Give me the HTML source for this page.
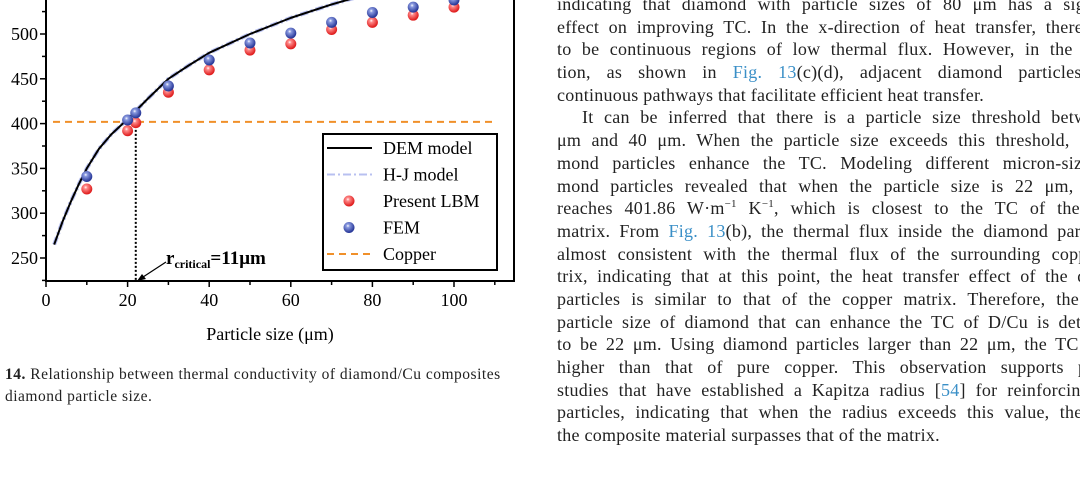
<!DOCTYPE html>
<html><head><meta charset="utf-8">
<style>
html,body{margin:0;padding:0;background:#fff;width:1080px;height:498px;overflow:hidden;position:relative;font-family:"Liberation Serif",serif;color:#222}
#txt{position:absolute;left:557px;top:-7px;width:523px;height:460px;overflow:hidden;font-size:18px;letter-spacing:0.25px;line-height:22.7px}
#txt div{white-space:nowrap;text-align:justify;text-align-last:justify;overflow:hidden;height:22.7px;width:585px}
#txt sup{font-size:11px;line-height:0;vertical-align:7px}
.lk{color:#3a8fc7}
#cap{position:absolute;left:5px;top:364px;font-size:15.5px;line-height:22px;color:#222;letter-spacing:0.5px}
</style></head><body>
<svg id="chart" width="520" height="345" style="position:absolute;left:0;top:0" xmlns="http://www.w3.org/2000/svg"></svg>
<div id="cap"><b>14.</b> Relationship between thermal conductivity of diamond/Cu composites<br>diamond particle size.</div>
<div id="txt">
<div>indicating that diamond with particle sizes of 80 μm has a significant</div>
<div>effect on improving TC. In the x-direction of heat transfer, there appear</div>
<div>to be continuous regions of low thermal flux. However, in the y-direc-</div>
<div>tion, as shown in <span class="lk">Fig. 13</span>(c)(d), adjacent diamond particles create</div>
<div style="text-align-last:left">continuous pathways that facilitate efficient heat transfer.</div>
<div style="padding-left:25px;width:560px">It can be inferred that there is a particle size threshold between 20</div>
<div>μm and 40 μm. When the particle size exceeds this threshold, the dia-</div>
<div>mond particles enhance the TC. Modeling different micron-sized dia-</div>
<div>mond particles revealed that when the particle size is 22 μm, the TC</div>
<div>reaches 401.86 W·m<sup>−1</sup> K<sup>−1</sup>, which is closest to the TC of the copper</div>
<div>matrix. From <span class="lk">Fig. 13</span>(b), the thermal flux inside the diamond particles is</div>
<div>almost consistent with the thermal flux of the surrounding copper ma-</div>
<div>trix, indicating that at this point, the heat transfer effect of the diamond</div>
<div>particles is similar to that of the copper matrix. Therefore, the critical</div>
<div>particle size of diamond that can enhance the TC of D/Cu is determined</div>
<div>to be 22 μm. Using diamond particles larger than 22 μm, the TC will be</div>
<div>higher than that of pure copper. This observation supports previous</div>
<div>studies that have established a Kapitza radius [<span class="lk">54</span>] for reinforcing phase</div>
<div>particles, indicating that when the radius exceeds this value, the TC of</div>
<div style="text-align-last:left">the composite material surpasses that of the matrix.</div>
</div>
<script>
const sizes=[10,20,22,30,40,50,60,70,80,90,100];
const lbm=[327,392,401,435,460,482,489,505,513,521,530];
const fem=[341,404,412,442,471,490,501,513,524,530,538];
const demX=[2,4,6,8,10,13,16,20,25,30,35,40,50,60,70,80,90,100];
const demY=[265,290,312,332,350,372,388,405,428,450,465,479,500,518,533,546,557,566];
const xTicks=[0,20,40,60,80,100];
const yTicks=[250,300,350,400,450,500];
const copper=401.86;
const NS='http://www.w3.org/2000/svg';
const svg=document.getElementById('chart');
const X=v=>46+v*4.08, Y=v=>34+(500-v)*0.896;
function mk(t,a,p){const e=document.createElementNS(NS,t);for(const k in a)e.setAttribute(k,a[k]);(p||svg).appendChild(e);return e;}
const defs=mk('defs',{});
[['gr','#ff8a8a','#e02020'],['gb','#8a9ae0','#2a3a9a']].forEach(([id,c1,c2])=>{const g=mk('radialGradient',{id:id,cx:'0.4',cy:'0.35',r:'0.6'},defs);mk('stop',{offset:'0','stop-color':'#fff'},g);mk('stop',{offset:'0.25','stop-color':c1},g);mk('stop',{offset:'1','stop-color':c2},g);});
const fr=mk('path',{d:'M46,0 V281 H514 V0',fill:'none',stroke:'#000','stroke-width':2});

for(let v=0;v<=110;v+=10){mk('line',{x1:X(v),x2:X(v),y1:281,y2:v%20==0?287:285,stroke:'#000','stroke-width':1.5});}
xTicks.forEach(v=>{const t=mk('text',{x:X(v),y:306,'text-anchor':'middle','font-size':18,'font-family':'Liberation Serif'});t.textContent=v;
});
for(let v=225;v<=550;v+=25){if(Y(v)<0||Y(v)>281)continue;mk('line',{x1:46,x2:v%50==0?40:42,y1:Y(v),y2:Y(v),stroke:'#000','stroke-width':1.5});}
yTicks.forEach(v=>{const t=mk('text',{x:38,y:Y(v)+6,'text-anchor':'end','font-size':18,'font-family':'Liberation Serif'});t.textContent=v;
});
const xt=mk('text',{x:270,y:340,'text-anchor':'middle','font-size':18,'font-family':'Liberation Serif'});xt.textContent='Particle size  (μm)';

const cu=mk('line',{x1:53,x2:495,y1:Y(copper),y2:Y(copper),stroke:'#f0902a','stroke-width':2,'stroke-dasharray':'7,5'});

const pts=demX.map((v,i)=>X(v)+','+Y(demY[i])).join(' ');
const hj=mk('polyline',{points:pts,fill:'none',stroke:'#b8c0f0','stroke-width':4,'stroke-dasharray':'8,3,2,3'});

const dem=mk('polyline',{points:pts,fill:'none',stroke:'#000','stroke-width':2,'stroke-linejoin':'round'});

mk('line',{x1:X(22),x2:X(22),y1:Y(copper),y2:281,stroke:'#000','stroke-width':2,'stroke-dasharray':'2,2'});
mk('line',{x1:166,x2:140,y1:262,y2:279,stroke:'#000','stroke-width':1.2});
mk('path',{d:'M137,281 L146,279 L142,274 Z',fill:'#000'});
const rc=mk('text',{x:166,y:264,'font-size':19,'font-weight':'bold','font-family':'Liberation Serif'});
rc.innerHTML='r<tspan font-size="12" dy="4">critical</tspan><tspan dy="-4">=11μm</tspan>';

sizes.forEach((s,i)=>{
const a=mk('circle',{cx:X(s),cy:Y(lbm[i]),r:5.5,fill:'url(#gr)'});
});
sizes.forEach((s,i)=>{
const b=mk('circle',{cx:X(s),cy:Y(fem[i]),r:5.5,fill:'url(#gb)'});
});
const lg=mk('g',{});
mk('rect',{x:323,y:134,width:174,height:136,fill:'#fff',stroke:'#000','stroke-width':2},lg);
const items=[['DEM  model','line'],['H-J  model','dash'],['Present LBM','red'],['FEM','blue'],['Copper','cu']];
items.forEach((it,i)=>{const y=148+i*26.5;
if(it[1]=='line')mk('line',{x1:327,x2:372,y1:y,y2:y,stroke:'#000','stroke-width':2},lg);
if(it[1]=='dash')mk('line',{x1:327,x2:372,y1:y,y2:y,stroke:'#b8c0f0','stroke-width':2,'stroke-dasharray':'8,3,2,3'},lg);
if(it[1]=='red')mk('circle',{cx:349,cy:y,r:5.5,fill:'url(#gr)'},lg);
if(it[1]=='blue')mk('circle',{cx:349,cy:y,r:5.5,fill:'url(#gb)'},lg);
if(it[1]=='cu')mk('line',{x1:327,x2:372,y1:y,y2:y,stroke:'#f0902a','stroke-width':2,'stroke-dasharray':'7,5'},lg);
const t=mk('text',{x:383,y:y+6,'font-size':18,'font-family':'Liberation Serif'},lg);t.textContent=it[0];
});
</script>
</body></html>
